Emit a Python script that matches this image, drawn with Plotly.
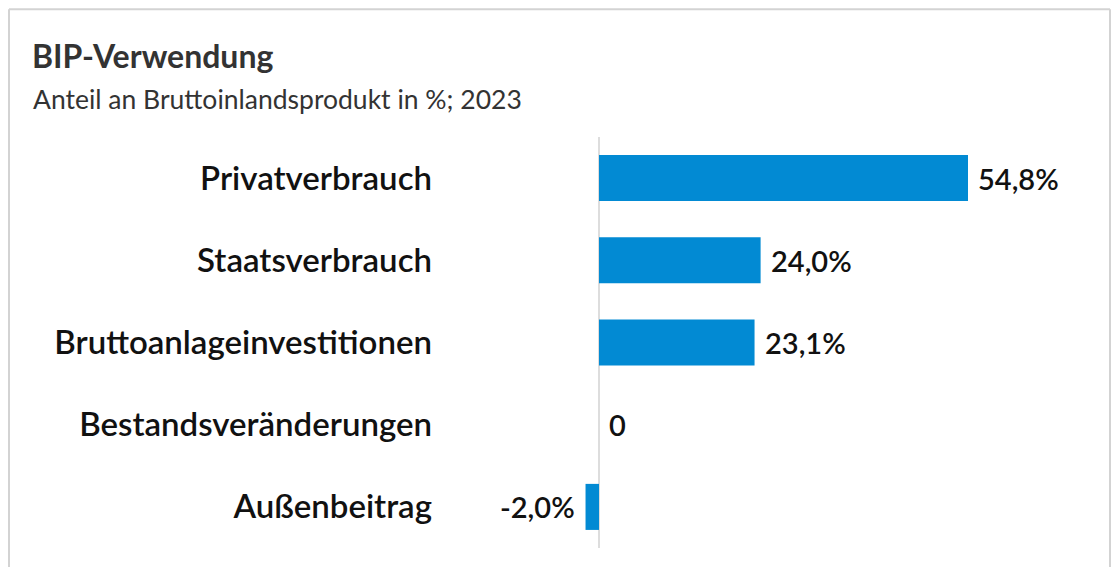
import plotly.graph_objects as go

categories = ["Privatverbrauch", "Staatsverbrauch", "Bruttoanlageinvestitionen",
              "Bestandsveränderungen", "Außenbeitrag"]
values = [54.8, 24.0, 23.1, 0.0, -2.0]
title = "BIP-Verwendung"
subtitle = "Anteil an Bruttoinlandsprodukt in %; 2023"

def fmt(v):
    if v == 0:
        return "0"
    return f"{v:.1f}".replace(".", ",") + "%"

# the page body has an 8px margin, so the figure starts at (8, 8)
OFF = 8
W, H = 1119 - OFF, 567 - OFF
PL, PR, PT, PB = 460, 1090, 137, 548.5   # plot area in window pixels
L = PL - OFF
R = W - (PR - OFF)
T = PT - OFF
B = H - (PB - OFF)
pw = W - L - R
ph = H - T - B

def px(x):
    return (x - OFF - L) / pw

def py(y):
    return (H - B - (y - OFF)) / ph

zero_px = 599
scale = (968 - 599) / 54.8
xr = [-(zero_px - PL) / scale, (PR - zero_px) / scale]

FONT = "Lato"
BAR = "#028ad3"

fig = go.Figure(go.Bar(
    y=categories, x=values, orientation="h",
    marker=dict(color=BAR, line=dict(width=0)),
    hoverinfo="skip",
))

annotations = []
for c, v in zip(categories, values):
    neg = v < 0
    annotations.append(dict(
        x=v, y=c, xref="x", yref="y", text=fmt(v), showarrow=False,
        xanchor="right" if neg else "left", xshift=-9 if neg else 8,
        font=dict(family=FONT, size=29, color="#111111", weight=600),
    ))

annotations.append(dict(
    x=px(30), y=py(55), xref="paper", yref="paper", text=f"<b>{title}</b>",
    showarrow=False, xanchor="left", yanchor="middle",
    font=dict(family=FONT, size=32, color="#333333"),
))
annotations.append(dict(
    x=px(31), y=py(99), xref="paper", yref="paper", text=subtitle,
    showarrow=False, xanchor="left", yanchor="middle",
    font=dict(family=FONT, size=26.5, color="#333333"),
))

BORDER = "#d3d3d3"
shapes = [
    dict(type="line", xref="x", yref="paper", x0=0, x1=0, y0=0, y1=1,
         line=dict(color="#dddddd", width=2), layer="below"),
    dict(type="line", xref="paper", yref="paper", x0=px(9), x1=px(9),
         y0=py(9), y1=py(590), line=dict(color=BORDER, width=2)),
    dict(type="line", xref="paper", yref="paper", x0=px(1110), x1=px(1110),
         y0=py(9), y1=py(590), line=dict(color=BORDER, width=2)),
    dict(type="line", xref="paper", yref="paper", x0=px(9), x1=px(1110),
         y0=py(9), y1=py(9), line=dict(color=BORDER, width=2)),
]

fig.update_layout(
    width=W, height=H,
    margin=dict(l=L, r=R, t=T, b=B, pad=0),
    paper_bgcolor="white", plot_bgcolor="white",
    bargap=0.44,
    showlegend=False,
    xaxis=dict(range=xr, visible=False, fixedrange=True),
    yaxis=dict(autorange="reversed", showgrid=False, zeroline=False,
               showline=False, ticks="", ticklabelstandoff=27, fixedrange=True,
               tickfont=dict(family=FONT, size=33, color="#111111", weight=600)),
    annotations=annotations,
    shapes=shapes,
)

fig.write_html("out.html", config={"displayModeBar": False})
